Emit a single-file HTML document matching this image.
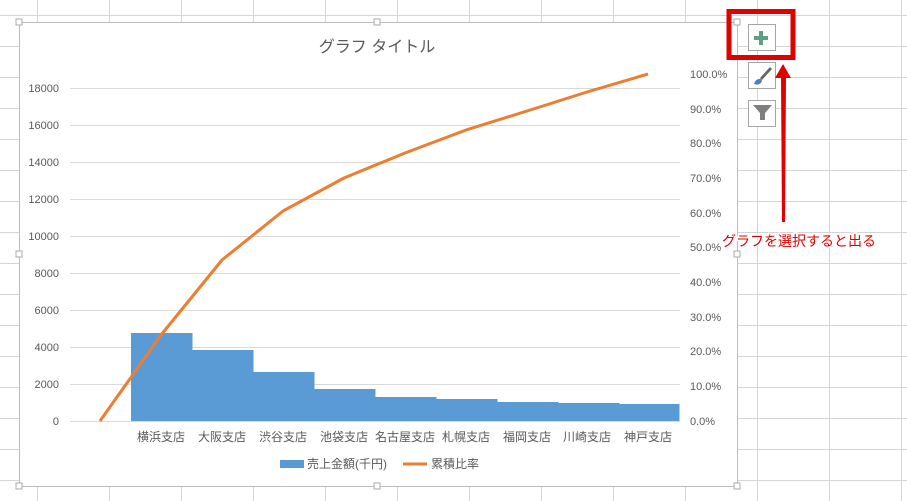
<!DOCTYPE html>
<html><head><meta charset="utf-8"><style>
html,body{margin:0;padding:0;background:#fff;}
svg{display:block;font-family:"Liberation Sans","Noto Sans CJK JP",sans-serif;}
</style></head><body>
<svg width="907" height="501" viewBox="0 0 907 501" xmlns="http://www.w3.org/2000/svg">
<rect width="907" height="501" fill="#fff"/>
<g stroke="#d4d4d4" stroke-width="1">
<line x1="37.5" y1="0" x2="37.5" y2="501"/><line x1="109.5" y1="0" x2="109.5" y2="501"/>
<line x1="181.5" y1="0" x2="181.5" y2="501"/><line x1="253.5" y1="0" x2="253.5" y2="501"/>
<line x1="325.5" y1="0" x2="325.5" y2="501"/><line x1="397.5" y1="0" x2="397.5" y2="501"/>
<line x1="469.5" y1="0" x2="469.5" y2="501"/><line x1="541.5" y1="0" x2="541.5" y2="501"/>
<line x1="613.5" y1="0" x2="613.5" y2="501"/><line x1="685.5" y1="0" x2="685.5" y2="501"/>
<line x1="757.5" y1="0" x2="757.5" y2="501"/><line x1="829.5" y1="0" x2="829.5" y2="501"/>
<line x1="901.5" y1="0" x2="901.5" y2="501"/>
<line x1="0" y1="15.5" x2="907" y2="15.5"/><line x1="0" y1="46.5" x2="907" y2="46.5"/>
<line x1="0" y1="77.5" x2="907" y2="77.5"/><line x1="0" y1="108.5" x2="907" y2="108.5"/>
<line x1="0" y1="139.5" x2="907" y2="139.5"/><line x1="0" y1="170.5" x2="907" y2="170.5"/>
<line x1="0" y1="201.5" x2="907" y2="201.5"/><line x1="0" y1="232.5" x2="907" y2="232.5"/>
<line x1="0" y1="263.5" x2="907" y2="263.5"/><line x1="0" y1="294.5" x2="907" y2="294.5"/>
<line x1="0" y1="325.5" x2="907" y2="325.5"/><line x1="0" y1="356.5" x2="907" y2="356.5"/>
<line x1="0" y1="387.5" x2="907" y2="387.5"/><line x1="0" y1="418.5" x2="907" y2="418.5"/>
<line x1="0" y1="449.5" x2="907" y2="449.5"/><line x1="0" y1="480.5" x2="907" y2="480.5"/>
</g>
<rect x="19.5" y="22.5" width="718" height="464" fill="#fff" stroke="#bdbdbd"/>
<g fill="#fff" stroke="#aaa"><rect x="16" y="19" width="6" height="6"/><rect x="374" y="19" width="6" height="6"/><rect x="734" y="19" width="6" height="6"/>
<rect x="16" y="251" width="6" height="6"/><rect x="734" y="251" width="6" height="6"/>
<rect x="16" y="483" width="6" height="6"/><rect x="374" y="483" width="6" height="6"/><rect x="734" y="483" width="6" height="6"/></g>
<text x="377" y="52" font-size="16" fill="#595959" text-anchor="middle">グラフ タイトル</text>
<g stroke="#d9d9d9" stroke-width="1">
<line x1="70" y1="88.5" x2="680" y2="88.5"/><line x1="70" y1="125.5" x2="680" y2="125.5"/>
<line x1="70" y1="162.5" x2="680" y2="162.5"/><line x1="70" y1="199.5" x2="680" y2="199.5"/>
<line x1="70" y1="236.5" x2="680" y2="236.5"/><line x1="70" y1="273.5" x2="680" y2="273.5"/>
<line x1="70" y1="310.5" x2="680" y2="310.5"/><line x1="70" y1="347.5" x2="680" y2="347.5"/>
<line x1="70" y1="384.5" x2="680" y2="384.5"/><line x1="70" y1="421.5" x2="680" y2="421.5"/>
</g>
<g font-size="11" fill="#595959" text-anchor="end">
<text x="59" y="92">18000</text><text x="59" y="129">16000</text><text x="59" y="166">14000</text>
<text x="59" y="203">12000</text><text x="59" y="240">10000</text><text x="59" y="277">8000</text>
<text x="59" y="314">6000</text><text x="59" y="351">4000</text><text x="59" y="388">2000</text><text x="59" y="425">0</text>
</g>
<g font-size="11" fill="#595959">
<text x="690" y="78">100.0%</text><text x="690" y="113">90.0%</text><text x="690" y="147">80.0%</text>
<text x="690" y="182">70.0%</text><text x="690" y="217">60.0%</text><text x="690" y="251">50.0%</text>
<text x="690" y="286">40.0%</text><text x="690" y="321">30.0%</text><text x="690" y="355">20.0%</text>
<text x="690" y="390">10.0%</text><text x="690" y="425">0.0%</text>
</g>
<g fill="#5b9bd5">
<rect x="131" y="333" width="61.5" height="88"/><rect x="192" y="350" width="61.5" height="71"/>
<rect x="253" y="372" width="61.5" height="49"/><rect x="314" y="389" width="61.5" height="32"/>
<rect x="375" y="397" width="61.5" height="24"/><rect x="436" y="399" width="61.5" height="22"/>
<rect x="497" y="402" width="61.5" height="19"/><rect x="558" y="403" width="61.5" height="18"/>
<rect x="618" y="404" width="61.5" height="17"/>
</g>
<polyline fill="none" stroke="#ed7d31" stroke-width="3" stroke-linejoin="round" points="100,421 161,335 222,260 283,211 344,178 405,153 466,130 527,111 587,92 648,74"/>
<g font-size="12" fill="#595959" text-anchor="middle">
<text x="161" y="441">横浜支店</text><text x="222" y="441">大阪支店</text><text x="283" y="441">渋谷支店</text>
<text x="344" y="441">池袋支店</text><text x="405" y="441">名古屋支店</text><text x="466" y="441">札幌支店</text>
<text x="527" y="441">福岡支店</text><text x="587" y="441">川崎支店</text><text x="648" y="441">神戸支店</text>
</g>
<rect x="280" y="460" width="24" height="8" fill="#5b9bd5"/>
<text x="307" y="468" font-size="12" fill="#595959">売上金額(千円)</text>
<line x1="403" y1="464" x2="427" y2="464" stroke="#ed7d31" stroke-width="3"/>
<text x="431" y="468" font-size="12" fill="#595959">累積比率</text>
<g fill="#fff" stroke="#a6a6a6">
<rect x="748.5" y="24.5" width="27" height="26"/><rect x="748.5" y="62.5" width="27" height="26"/><rect x="748.5" y="100.5" width="27" height="26"/>
</g>
<path d="M759 31h4v5h5v4h-5v5h-4v-5h-5v-4h5z" fill="#5fa084"/>
<path d="M770 67 L760 78 L762 80 L772 69 Z" fill="#666"/>
<path d="M754 84 q2 -6 7 -5 l1 2 q-2 5 -8 3z" fill="#4a7fc1"/>
<path d="M753 105 h19 l-7 8 v7 h-5 v-7 z" fill="#7f7f7f"/>
<rect x="729" y="11.5" width="64" height="46" fill="none" stroke="#e00000" stroke-width="5"/>
<path d="M783 64 L775 78 L781 78 L782 222 L785 222 L786 78 L791 78 Z" fill="#e00000"/>
<text x="722" y="246" font-size="14" fill="#e00000" stroke="#fff" stroke-width="3" paint-order="stroke">グラフを選択すると出る</text>
</svg>
</body></html>
